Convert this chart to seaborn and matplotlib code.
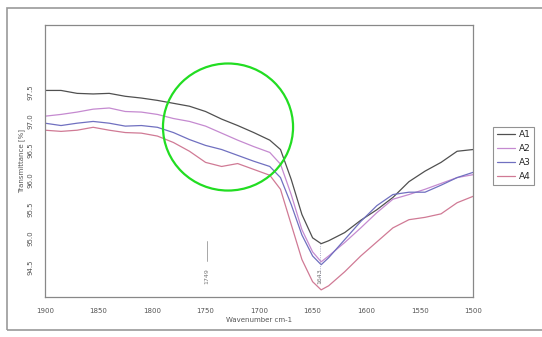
import pandas as pd
import matplotlib.pyplot as plt
import seaborn as sns
from matplotlib.patches import Ellipse, Rectangle

# --- data -----------------------------------------------------
wavenumber = [1900, 1885, 1870, 1855, 1840, 1825, 1810, 1795, 1780, 1765,
              1750, 1735, 1720, 1705, 1690, 1680, 1670, 1660, 1650, 1642,
              1635, 1620, 1605, 1590, 1575, 1560, 1545, 1530, 1515, 1500]

a1 = [97.53, 97.53, 97.48, 97.47, 97.48, 97.43, 97.40, 97.36, 97.31, 97.26,
      97.17, 97.04, 96.93, 96.81, 96.68, 96.52, 96.01, 95.41, 95.01, 94.91,
      94.96, 95.10, 95.31, 95.49, 95.70, 95.97, 96.15, 96.30, 96.49, 96.52]
a2 = [97.09, 97.12, 97.16, 97.21, 97.23, 97.17, 97.16, 97.12, 97.05, 97.00,
      96.92, 96.80, 96.68, 96.57, 96.47, 96.27, 95.75, 95.15, 94.77, 94.60,
      94.70, 94.93, 95.18, 95.44, 95.67, 95.75, 95.84, 95.94, 96.04, 96.09]
a3 = [96.97, 96.93, 96.97, 97.00, 96.97, 96.92, 96.93, 96.90, 96.81, 96.69,
      96.59, 96.52, 96.42, 96.32, 96.23, 96.04, 95.58, 95.06, 94.70, 94.55,
      94.67, 94.98, 95.29, 95.56, 95.75, 95.79, 95.79, 95.91, 96.04, 96.13]
a4 = [96.85, 96.83, 96.85, 96.90, 96.85, 96.81, 96.80, 96.75, 96.64, 96.49,
      96.30, 96.23, 96.28, 96.18, 96.08, 95.84, 95.24, 94.64, 94.26, 94.12,
      94.19, 94.43, 94.70, 94.94, 95.18, 95.32, 95.36, 95.42, 95.61, 95.72]

series_names = ["A1", "A2", "A3", "A4"]
colors = ["#505050", "#c58ad0", "#7070c0", "#d07a95"]

x_ticks = [1900, 1850, 1800, 1750, 1700, 1650, 1600, 1550, 1500]
y_ticks = [94.5, 95.0, 95.5, 96.0, 96.5, 97.0, 97.5]

peak_labels = [(1749, "1749"), (1643, "1643")]

df = pd.concat([
    pd.DataFrame({"wavenumber": wavenumber, "T": vals, "sample": name})
    for name, vals in zip(series_names, [a1, a2, a3, a4])
])

# --- plot -----------------------------------------------------
sns.set_style("white")
fig = plt.figure(figsize=(5.42, 3.37), dpi=100)
ax = fig.add_axes([0.083, 0.119, 0.79, 0.807])

sns.lineplot(data=df, x="wavenumber", y="T", hue="sample",
             palette=colors, linewidth=0.9, ax=ax, legend=False)

ax.set_xlim(1900, 1500)
ax.set_ylim(94.0, 98.65)
ax.set_xticks(x_ticks)
ax.set_yticks(y_ticks)
ax.set_xticklabels([str(t) for t in x_ticks], fontsize=5, color="#555555")
ax.set_yticklabels([f"{t:.1f}" for t in y_ticks], fontsize=5,
                   rotation=90, va="center", color="#555555")
ax.tick_params(length=2, width=0.6, color="#777777", pad=6)
ax.set_xlabel("Wavenumber cm-1", fontsize=5, color="#555555", labelpad=2)
ax.set_ylabel("Transmittance [%]", fontsize=5, color="#555555", labelpad=2)
for s in ax.spines.values():
    s.set_color("#888888")
    s.set_linewidth(0.9)

# peak markers
for wn, lab in peak_labels:
    ax.text(wn, 94.35, lab, rotation=90, fontsize=4.5, color="#777777",
            ha="center", va="center")
ax.plot([1749, 1749], [94.62, 94.95], color="#999999", lw=0.6)
ax.plot([1643, 1643], [94.25, 94.9], color="#9999bb", lw=0.6, ls=":")

# legend outside
handles = [plt.Line2D([], [], color=c, lw=0.9) for c in colors]
leg = fig.legend(handles, series_names, loc="upper left",
                 bbox_to_anchor=(0.902, 0.637), fontsize=6.5,
                 frameon=True, fancybox=False, handlelength=2.0,
                 borderpad=0.4, labelspacing=0.55, handletextpad=0.4)
leg.get_frame().set_edgecolor("#777777")
leg.get_frame().set_linewidth(0.8)

# outer border
fig.patches.append(Rectangle((0.013, 0.02), 1.0, 0.956, transform=fig.transFigure,
                             fill=False, edgecolor="#999999", lw=1.2))

# green highlight ellipse
fig.patches.append(Ellipse((0.4207, 0.6231), 0.240, 0.377,
                           transform=fig.transFigure, fill=False,
                           edgecolor="#22dd22", lw=1.6))

fig.savefig("out.png", dpi=100)
